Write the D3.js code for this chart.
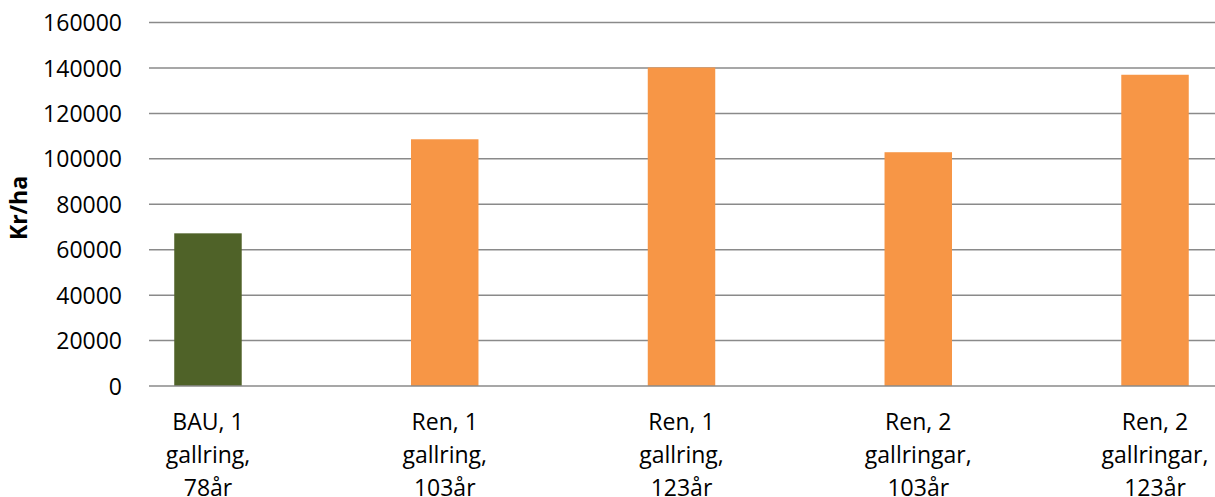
<!DOCTYPE html>
<html>
<head>
<meta charset="utf-8">
<script src="https://cdn.jsdelivr.net/npm/d3@7/dist/d3.min.js"></script>
<style>
  html, body { margin: 0; padding: 0; background: #ffffff; }
  svg { display: block; }
  text { font-family: "Open Sans", "Noto Sans", sans-serif; fill: #000; }
</style>
</head>
<body>
<svg id="chart" width="1215" height="497"></svg>
<script>
// Net value per hectare for each management alternative
const categories = [
  ["BAU, 1", "gallring,", "78år"],
  ["Ren, 1", "gallring,", "103år"],
  ["Ren, 1", "gallring,", "123år"],
  ["Ren, 2", "gallringar,", "103år"],
  ["Ren, 2", "gallringar,", "123år"]
];
const values = [67200, 108600, 140200, 102900, 137000];
const barColors = ["#4f6228", "#f79646", "#f79646", "#f79646", "#f79646"];
const yTicks = [0, 20000, 40000, 60000, 80000, 100000, 120000, 140000, 160000];
const yTitle = "Kr/ha";

const svg = d3.select("#chart");

const gridLeft = 149, gridRight = 1215;
const y = d3.scaleLinear().domain([0, 160000]).range([386, 22.5]);

const keys = categories.map(c => c.join(" "));
const x = d3.scaleBand()
  .domain(keys)
  .range([89.6, 1273.4])
  .paddingInner(0.715)
  .paddingOuter(0.3575);

// Horizontal gridlines
svg.append("g")
  .selectAll("line")
  .data(yTicks.filter(d => d > 0))
  .join("line")
  .attr("x1", gridLeft).attr("x2", gridRight)
  .attr("y1", d => y(d)).attr("y2", d => y(d))
  .attr("stroke", "#8a8a8a")
  .attr("stroke-width", 1.5);

// Bars
svg.append("g")
  .selectAll("rect")
  .data(values)
  .join("rect")
  .attr("x", (d, i) => x(keys[i]))
  .attr("width", x.bandwidth())
  .attr("y", d => y(d))
  .attr("height", d => y(0) - y(d))
  .attr("fill", (d, i) => barColors[i]);

// Category axis line
svg.append("line")
  .attr("x1", gridLeft).attr("x2", gridRight)
  .attr("y1", y(0)).attr("y2", y(0))
  .attr("stroke", "#8a8a8a")
  .attr("stroke-width", 1.5);

// Value axis labels
const yAxis = d3.axisLeft(y).tickValues(yTicks).tickSize(0).tickPadding(0)
  .tickFormat(d3.format("d"));
const yg = svg.append("g").attr("transform", "translate(122,0)").call(yAxis);
yg.select(".domain").remove();
yg.selectAll("text")
  .attr("font-family", "'Open Sans', sans-serif")
  .attr("font-size", 23)
  .attr("fill", "#000")
  .attr("dy", "0.35em");

// Category labels (three lines each)
const xl = svg.append("g");
categories.forEach((lines, i) => {
  const cx = x(keys[i]) + x.bandwidth() / 2;
  const t = xl.append("text")
    .attr("text-anchor", "middle")
    .attr("font-size", 23);
  lines.forEach((ln, j) => {
    t.append("tspan")
      .attr("x", cx)
      .attr("y", 430 + j * 33)
      .text(ln);
  });
});

// Value axis title
svg.append("text")
  .attr("transform", "translate(27,208) rotate(-90)")
  .attr("text-anchor", "middle")
  .attr("font-size", 23)
  .attr("font-weight", "bold")
  .text(yTitle);
</script>
</body>
</html>
